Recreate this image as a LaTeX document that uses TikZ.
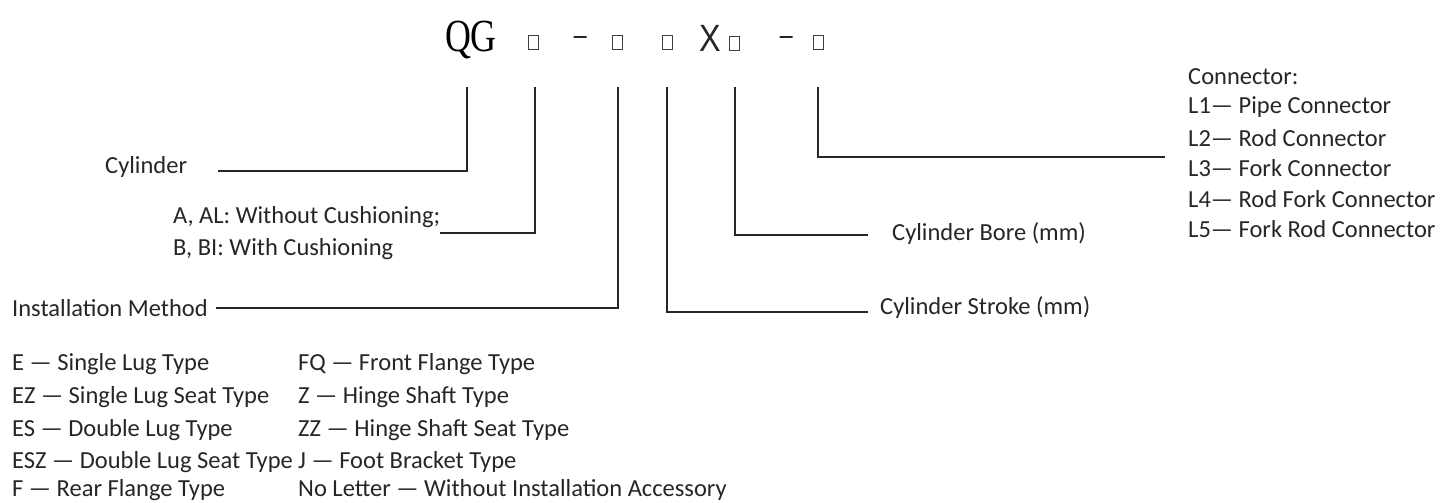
\documentclass[tikz,border=0pt]{standalone}
\usepackage{fontspec}
\setmainfont{Carlito}
\newfontfamily\serifx{Liberation Serif}
\newfontfamily\sansx{Liberation Sans}
\begin{document}
\begin{tikzpicture}[x=1pt,y=-1pt,
  t/.style={anchor=west,inner sep=0pt,font=\fontsize{24.5}{27}\selectfont,text=black!85},
  ln/.style={line width=2.4pt,black!85},
  bx/.style={draw=black!75,line width=1pt,minimum width=10pt,minimum height=14pt,inner sep=0pt},
  dsh/.style={draw=black!85,line width=2pt,minimum width=13pt,minimum height=0pt,inner sep=0pt}]
\useasboundingbox (0,0) rectangle (1454,503);
\node[inner sep=0pt,font=\serifx\fontsize{46}{50}\selectfont,xscale=0.78] (qg) at (471,40) {QG};
\node[bx] (b1) at (533,43) {};
\node[dsh] (d1) at (580,37) {};
\node[bx] (b2) at (617,43) {};
\node[bx] (b3) at (667,43) {};
\node[inner sep=0pt,font=\sansx\fontsize{38}{38}\selectfont,xscale=0.85,text=black!85] (xx) at (710,38) {X};
\node[bx] (b4) at (734,44) {};
\node[dsh] (d2) at (786,37) {};
\node[bx] (b5) at (818,43) {};
% texts
\node[t] (cyl) at (105,167) {Cylinder};
\node[t] (ca) at (173,217) {A, AL: Without Cushioning;};
\node[t] (cb) at (173,249) {B, BI: With Cushioning};
\node[t] (im) at (12,308) {Installation Method};
\node[t] (st) at (880,308) {Cylinder Stroke (mm)};
\node[t] (bo) at (892,234) {Cylinder Bore (mm)};
\node[t] (c0) at (1188,77) {Connector:};
\node[t] (c1) at (1188,107) {L1— Pipe Connector};
\node[t] (c2) at (1188,138) {L2— Rod Connector};
\node[t] (c3) at (1188,168) {L3— Fork Connector};
\node[t] (c4) at (1188,199) {L4— Rod Fork Connector};
\node[t] (c5) at (1188,229) {L5— Fork Rod Connector};
% coordinates
\coordinate (t1) at (467,87); \coordinate (k1) at (467,171); \coordinate (e1) at (218,171);
\coordinate (t2) at (535,87); \coordinate (k2) at (535,233); \coordinate (e2) at (440,233);
\coordinate (t3) at (618,87); \coordinate (k3) at (618,308); \coordinate (e3) at (216,308);
\coordinate (t4) at (667,87); \coordinate (k4) at (667,312); \coordinate (e4) at (868,312);
\coordinate (t5) at (735,87); \coordinate (k5) at (735,235); \coordinate (e5) at (868,235);
\coordinate (t6) at (818,87); \coordinate (k6) at (818,157); \coordinate (e6) at (1165,157);
\draw[ln] (t1)--(k1)--(e1);
\draw[ln] (t2)--(k2)--(e2);
\draw[ln] (t3)--(k3)--(e3);
\draw[ln] (t4)--(k4)--(e4);
\draw[ln] (t5)--(k5)--(e5);
\draw[ln] (t6)--(k6)--(e6);
% list
\node[t] (m1) at (12,364) {E — Single Lug Type};
\node[t] (m2) at (12,397) {EZ — Single Lug Seat Type};
\node[t] (m3) at (12,430) {ES — Double Lug Type};
\node[t] (m4) at (12,462) {ESZ — Double Lug Seat Type};
\node[t] (m5) at (12,490) {F — Rear Flange Type};
\node[t] (n1) at (298,364) {FQ — Front Flange Type};
\node[t] (n2) at (298,397) {Z — Hinge Shaft Type};
\node[t] (n3) at (298,430) {ZZ — Hinge Shaft Seat Type};
\node[t] (n4) at (298,462) {J — Foot Bracket Type};
\node[t] (n5) at (298,490) {No Letter — Without Installation Accessory};
\end{tikzpicture}
\end{document}
